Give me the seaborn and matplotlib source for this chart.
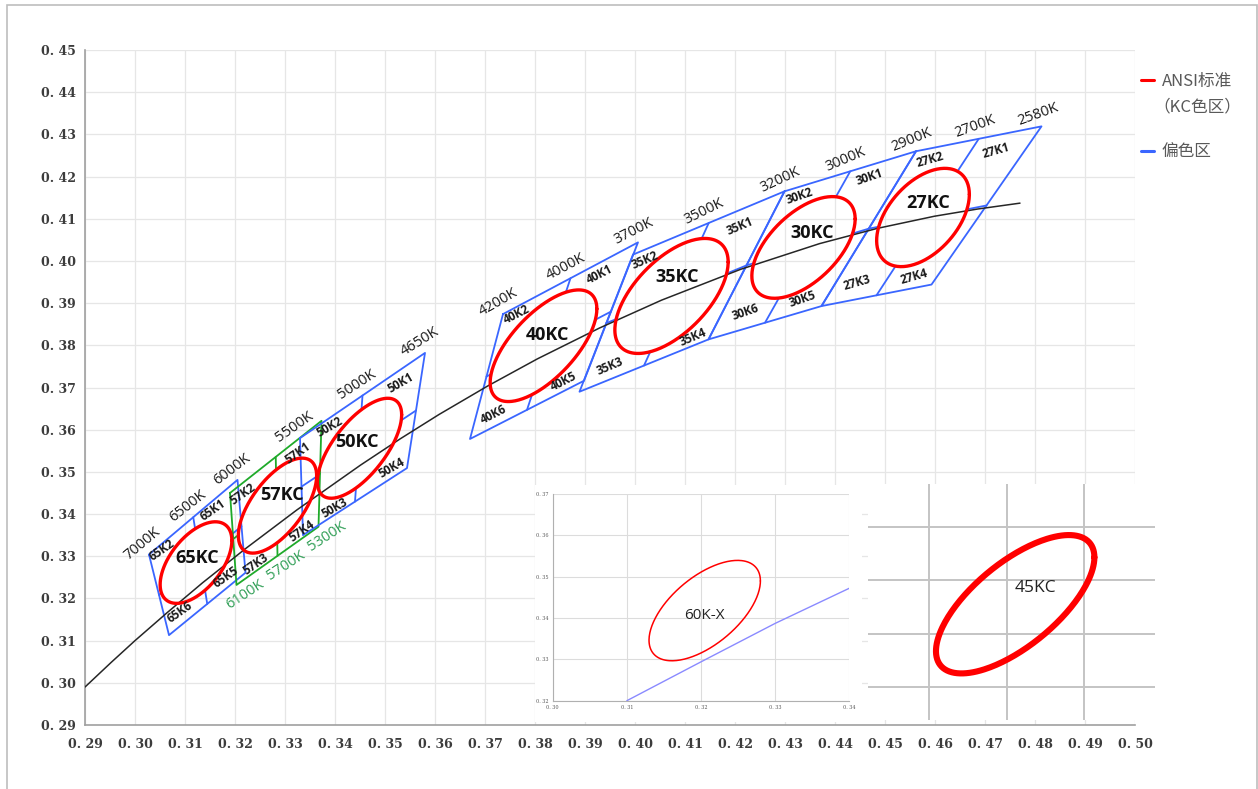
import numpy as np
import matplotlib
matplotlib.use("Agg")
import matplotlib.pyplot as plt
from matplotlib.lines import Line2D
from matplotlib.patches import Rectangle
import seaborn as sns

# ---------------- data ----------------
x_ticks = [0.29, 0.30, 0.31, 0.32, 0.33, 0.34, 0.35, 0.36, 0.37, 0.38, 0.39,
           0.40, 0.41, 0.42, 0.43, 0.44, 0.45, 0.46, 0.47, 0.48, 0.49, 0.50]
x_tick_labels = ["0. 29", "0. 30", "0. 31", "0. 32", "0. 33", "0. 34", "0. 35", "0. 36",
                 "0. 37", "0. 38", "0. 39", "0. 40", "0. 41", "0. 42", "0. 43", "0. 44",
                 "0. 45", "0. 46", "0. 47", "0. 48", "0. 49", "0. 50"]
y_ticks = [0.29, 0.30, 0.31, 0.32, 0.33, 0.34, 0.35, 0.36, 0.37, 0.38, 0.39,
           0.40, 0.41, 0.42, 0.43, 0.44, 0.45]
y_tick_labels = ["0. 29", "0. 30", "0. 31", "0. 32", "0. 33", "0. 34", "0. 35", "0. 36",
                 "0. 37", "0. 38", "0. 39", "0. 40", "0. 41", "0. 42", "0. 43", "0. 44", "0. 45"]

# black curve (Planckian locus)
locus_x = [0.2900, 0.2952, 0.3000, 0.3064, 0.3135, 0.3221, 0.3324, 0.3451, 0.3530,
           0.3608, 0.3706, 0.3805, 0.3929, 0.4053, 0.4211, 0.4369, 0.4484, 0.4599,
           0.4685, 0.4770]
locus_y = [0.2990, 0.3048, 0.3100, 0.3166, 0.3237, 0.3318, 0.3410, 0.3516, 0.3578,
           0.3636, 0.3704, 0.3768, 0.3841, 0.3907, 0.3980, 0.4041, 0.4077, 0.4106,
           0.4123, 0.4137]

# quadrangles, corners in order TL, TR, BR, BL
bin_names = ["65K", "57K", "50K", "40K", "35K", "30K", "27K"]
quad_x = [[0.3028, 0.3205, 0.3221, 0.3068],
          [0.3190, 0.3373, 0.3367, 0.3203],
          [0.3330, 0.3580, 0.3544, 0.3336],
          [0.3736, 0.4006, 0.3898, 0.3670],
          [0.3996, 0.4299, 0.4147, 0.3889],
          [0.4299, 0.4562, 0.4373, 0.4147],
          [0.4562, 0.4813, 0.4593, 0.4373]]
quad_y = [[0.3304, 0.3481, 0.3261, 0.3113],
          [0.3450, 0.3621, 0.3370, 0.3232],
          [0.3580, 0.3782, 0.3509, 0.3350],
          [0.3874, 0.4044, 0.3716, 0.3578],
          [0.4015, 0.4165, 0.3814, 0.3690],
          [0.4165, 0.4260, 0.3893, 0.3814],
          [0.4260, 0.4319, 0.3944, 0.3893]]

# ANSI ellipses: centre, half x-extent, half y-extent, x/y correlation
ellipse_names = ["65KC", "57KC", "50KC", "40KC", "35KC", "30KC", "27KC"]
ellipse_cx = [0.3122, 0.3285, 0.3449, 0.3817, 0.4073, 0.4337, 0.4576]
ellipse_cy = [0.3285, 0.3420, 0.3556, 0.3799, 0.3917, 0.4032, 0.4103]
ellipse_rx = [0.00717, 0.00783, 0.00843, 0.01067, 0.01133, 0.01033, 0.00927]
ellipse_ry = [0.00967, 0.01126, 0.01185, 0.01323, 0.01363, 0.01205, 0.01165]
ellipse_rho = [0.54, 0.63, 0.67, 0.66, 0.59, 0.56, 0.47]
ellipse_label_x = [0.3124, 0.3294, 0.3444, 0.3824, 0.4084, 0.4354, 0.4586]
ellipse_label_y = [0.3296, 0.3445, 0.3571, 0.3824, 0.3962, 0.4066, 0.4137]

# CCT labels on the quadrangle edges
cct_labels = ["7000K", "6500K", "6000K", "5500K", "5000K", "4650K", "4200K", "4000K",
              "3700K", "3500K", "3200K", "3000K", "2900K", "2700K", "2580K"]
cct_bin = ["65K", "65K", "65K", "50K", "50K", "50K", "40K", "40K",
           "40K", "35K", "35K", "30K", "30K", "27K", "27K"]
cct_corner = ["TL", "TM", "TR", "TL", "TM", "TR", "TL", "TM",
              "TR", "TM", "TR", "TM", "TR", "TM", "TR"]
cct_angle = [40, 38, 37, 35, 33, 32, 30, 28, 27, 26, 25, 23, 22, 20, 20]
green_labels = ["6100K", "5700K", "5300K"]
green_corner = ["BL", "BM", "BR"]

# sub-bin labels
sub_labels = ["65K2", "65K1", "65K5", "65K6", "57K2", "57K1", "57K3", "57K4",
              "50K2", "50K1", "50K4", "50K3", "40K2", "40K1", "40K5", "40K6",
              "35K2", "35K1", "35K4", "35K3", "30K2", "30K1", "30K5", "30K6",
              "27K2", "27K1", "27K3", "27K4"]
sub_x = [0.3054, 0.3156, 0.3182, 0.3090, 0.3216, 0.3326, 0.3242, 0.3334,
         0.3390, 0.3532, 0.3514, 0.3400, 0.3764, 0.3930, 0.3858, 0.3718,
         0.4020, 0.4210, 0.4116, 0.3950, 0.4330, 0.4470, 0.4336, 0.4220,
         0.4590, 0.4722, 0.4444, 0.4558]
sub_y = [0.3315, 0.3410, 0.3251, 0.3168, 0.3448, 0.3545, 0.3282, 0.3360,
         0.3606, 0.3711, 0.3509, 0.3414, 0.3872, 0.3967, 0.3713, 0.3635,
         0.4002, 0.4083, 0.3820, 0.3749, 0.4154, 0.4199, 0.3910, 0.3879,
         0.4239, 0.4261, 0.3948, 0.3962]
group_angle = {"65K": 35, "57K": 35, "50K": 30, "40K": 27, "35K": 23, "30K": 19, "27K": 16}

# inset 1 (60K-X)
ins1_xticks = [0.30, 0.31, 0.32, 0.33, 0.34]
ins1_xlabels = ["0. 30", "0. 31", "0. 32", "0. 33", "0. 34"]
ins1_yticks = [0.32, 0.33, 0.34, 0.35, 0.36, 0.37]
ins1_ylabels = ["0. 32", "0. 33", "0. 34", "0. 35", "0. 36", "0. 37"]
ins1_line_x = [0.31, 0.32, 0.33, 0.34]
ins1_line_y = [0.3200, 0.3294, 0.3387, 0.3472]
ins1_ell = (0.3205, 0.3418, 0.00751, 0.01214, 0.59)
ins1_label_xy = (0.3205, 0.3407)

# inset 2 (45KC) on an unlabelled grid
ins2_grid_x = [1, 2, 3]
ins2_grid_y = [1, 2, 3, 4]
ins2_ell = (2.112, 2.553, 1.022, 1.298, 0.678)
ins2_label_xy = (2.368, 2.857)

# ---------------- styles ----------------
BLUE = "#3a66ff"
GREEN = "#1faa2a"
GREEN_TXT = "#2f9e55"
RED = "#ff0000"
W, H = 1258, 789

sns.set_theme(style="white")
plt.rcParams["font.family"] = ["Open Sans", "DejaVu Sans"]

fig = plt.figure(figsize=(W / 100, H / 100), dpi=100)
fig.patch.set_facecolor("white")


def fx(px):
    return px / W


def fy(py):
    return 1 - py / H


ax = fig.add_axes([fx(85), fy(725), fx(1135) - fx(85), fy(50) - fy(725)])
ax.set_xlim(0.29, 0.50)
ax.set_ylim(0.29, 0.45)
ax.set_xticks(x_ticks)
ax.set_yticks(y_ticks)
tick_font = dict(family="DejaVu Serif", weight="bold", size=9, color="#3c3c3c")
ax.set_xticklabels(x_tick_labels, fontdict=tick_font)
ax.set_yticklabels(y_tick_labels, fontdict=tick_font)
ax.grid(True, color="#e6e6e6", lw=0.9)
ax.set_axisbelow(True)
for s in ["top", "right"]:
    ax.spines[s].set_visible(False)
for s in ["left", "bottom"]:
    ax.spines[s].set_color("#a0a0a0")
    ax.spines[s].set_linewidth(1.2)
ax.tick_params(axis="both", length=2.5, width=0.8, color="#a6a6a6", direction="out")
ax.tick_params(axis="x", pad=7)
ax.tick_params(axis="y", pad=4)


def ellipse_pts(cx, cy, rx, ry, rho, n=240):
    t = np.linspace(0, 2 * np.pi, n)
    s = np.sqrt(1 - rho ** 2)
    return cx + rx * np.cos(t), cy + ry * (rho * np.cos(t) + s * np.sin(t))


def inside(px, py, cx, cy, rx, ry, rho):
    a = (px - cx) / rx
    b = ((py - cy) / ry - rho * a) / np.sqrt(1 - rho ** 2)
    return a * a + b * b <= 1.0


def corner_pt(i, c):
    xs, ys = quad_x[i], quad_y[i]
    idx = {"TL": 0, "TR": 1, "BR": 2, "BL": 3}
    if c in idx:
        return xs[idx[c]], ys[idx[c]]
    if c == "TM":
        return (xs[0] + xs[1]) / 2, (ys[0] + ys[1]) / 2
    if c == "BM":
        return (xs[3] + xs[2]) / 2, (ys[3] + ys[2]) / 2
    if c == "LM":
        return (xs[0] + xs[3]) / 2, (ys[0] + ys[3]) / 2
    if c == "RM":
        return (xs[1] + xs[2]) / 2, (ys[1] + ys[2]) / 2


# quadrangles and their divider stubs
for i, name in enumerate(bin_names):
    col = GREEN if name == "57K" else BLUE
    xs = quad_x[i] + [quad_x[i][0]]
    ys = quad_y[i] + [quad_y[i][0]]
    sns.lineplot(x=xs, y=ys, sort=False, estimator=None, color=col, lw=1.3, ax=ax, zorder=3)
    e = (ellipse_cx[i], ellipse_cy[i], ellipse_rx[i], ellipse_ry[i], ellipse_rho[i])
    for a, b in [("TM", "BM"), ("BM", "TM"), ("LM", "RM"), ("RM", "LM")]:
        p = np.array(corner_pt(i, a))
        q = np.array(corner_pt(i, b))
        ts = np.linspace(0, 1, 600)
        pts = p[None, :] + ts[:, None] * (q - p)[None, :]
        ins = inside(pts[:, 0], pts[:, 1], *e)
        k = np.argmax(ins) if ins.any() else len(ts) - 1
        ax.plot([p[0], pts[k, 0]], [p[1], pts[k, 1]], color=col, lw=1.3, zorder=3)

# locus
sns.lineplot(x=locus_x, y=locus_y, sort=False, estimator=None, color="#262626", lw=1.1,
             ax=ax, zorder=4)

# ellipses
for i, name in enumerate(ellipse_names):
    ex, ey = ellipse_pts(ellipse_cx[i], ellipse_cy[i], ellipse_rx[i], ellipse_ry[i], ellipse_rho[i])
    sns.lineplot(x=ex, y=ey, sort=False, estimator=None, color=RED, lw=2.4, ax=ax, zorder=5)
    ax.text(ellipse_label_x[i], ellipse_label_y[i], name, fontsize=13, fontweight="bold",
            color="#111111", ha="center", va="center", zorder=6)

# CCT labels
for lab, b, c, ang in zip(cct_labels, cct_bin, cct_corner, cct_angle):
    i = bin_names.index(b)
    ax.annotate(lab, corner_pt(i, c), xytext=(-1, 3.5), textcoords="offset points",
                ha="center", va="bottom", rotation=ang, rotation_mode="anchor",
                fontsize=10.5, color="#1a1a1a", zorder=6)
gi = bin_names.index("57K")
for lab, c in zip(green_labels, green_corner):
    ax.annotate(lab, corner_pt(gi, c), xytext=(3, -2.5), textcoords="offset points",
                ha="center", va="top", rotation=33, rotation_mode="anchor",
                fontsize=10.5, color=GREEN_TXT, zorder=6)

# sub-bin labels
for lab, x, y in zip(sub_labels, sub_x, sub_y):
    ax.text(x, y, lab, fontsize=8.5, fontweight="bold", color="#1a1a1a",
            ha="center", va="center", rotation=group_angle[lab[:3]],
            rotation_mode="anchor", zorder=6)

# ---------------- inset 1 ----------------
fig.add_artist(Rectangle((fx(535), fy(722)), fx(862) - fx(535), fy(485) - fy(722),
                         transform=fig.transFigure, facecolor="white", edgecolor="none",
                         zorder=1))
ax1 = fig.add_axes([fx(552.7), fy(700.7), fx(849.3) - fx(552.7), fy(494) - fy(700.7)], zorder=2)
ax1.set_xlim(0.30, 0.34)
ax1.set_ylim(0.32, 0.37)
ax1.set_xticks(ins1_xticks)
ax1.set_yticks(ins1_yticks)
small_font = dict(family="DejaVu Serif", size=3.5, color="#555555")
ax1.set_xticklabels(ins1_xlabels, fontdict=small_font)
ax1.set_yticklabels(ins1_ylabels, fontdict=small_font)
ax1.tick_params(length=0, pad=3)
ax1.grid(True, color="#dcdcdc", lw=0.8)
ax1.set_axisbelow(True)
for s in ["top", "right"]:
    ax1.spines[s].set_visible(False)
for s in ["left", "bottom"]:
    ax1.spines[s].set_color("#b0b0b0")
    ax1.spines[s].set_linewidth(0.8)
sns.lineplot(x=ins1_line_x, y=ins1_line_y, sort=False, estimator=None, color="#8a8aff",
             lw=1.0, ax=ax1)
ex, ey = ellipse_pts(*ins1_ell)
sns.lineplot(x=ex, y=ey, sort=False, estimator=None, color=RED, lw=1.1, ax=ax1)
ax1.text(*ins1_label_xy, "60K-X", fontsize=11, color="#222222", ha="center", va="center",
         family=["Open Sans", "DejaVu Sans"])

# ---------------- inset 2 ----------------
ax2 = fig.add_axes([fx(868), fy(720), fx(1155) - fx(868), fy(484) - fy(720)], zorder=2)
ax2.set_facecolor("white")
ax2.set_xlim(0.213, 3.916)
ax2.set_ylim(0.381, 4.809)
ax2.set_xticks(ins2_grid_x)
ax2.set_yticks(ins2_grid_y)
ax2.set_xticklabels([])
ax2.set_yticklabels([])
ax2.tick_params(length=0)
ax2.grid(True, color="#c4c4c4", lw=1.4)
ax2.set_axisbelow(True)
for s in ax2.spines.values():
    s.set_visible(False)
ex, ey = ellipse_pts(*ins2_ell)
sns.lineplot(x=ex, y=ey, sort=False, estimator=None, color=RED, lw=4.4, ax=ax2)
ax2.text(*ins2_label_xy, "45KC", fontsize=12.5, color="#222222", ha="center", va="center")

# ---------------- legend ----------------
cjk = ["Noto Sans CJK SC", "DejaVu Sans"]
handles = [Line2D([], [], color=RED, lw=2.2), Line2D([], [], color=BLUE, lw=2.2)]
leg = fig.legend(handles, ["ANSI标准", "偏色区"], loc="upper left",
                 bbox_to_anchor=(fx(1141), fy(73)), frameon=False,
                 prop={"family": cjk, "size": 12}, handlelength=0.8, handletextpad=0.45,
                 labelspacing=3.2, borderpad=0, borderaxespad=0)
for t in leg.get_texts():
    t.set_color("#595959")
fig.text(fx(1153), fy(107), "（KC色区）", family=cjk, fontsize=12, color="#595959",
         ha="left", va="center")

# figure frame
fig.add_artist(Rectangle((fx(7), -0.05), fx(1256.5) - fx(7), fy(5) + 0.05,
                         transform=fig.transFigure, fill=False, edgecolor="#bdbdbd",
                         lw=1.2, zorder=10))

fig.savefig("out.png", dpi=100, facecolor="white")
